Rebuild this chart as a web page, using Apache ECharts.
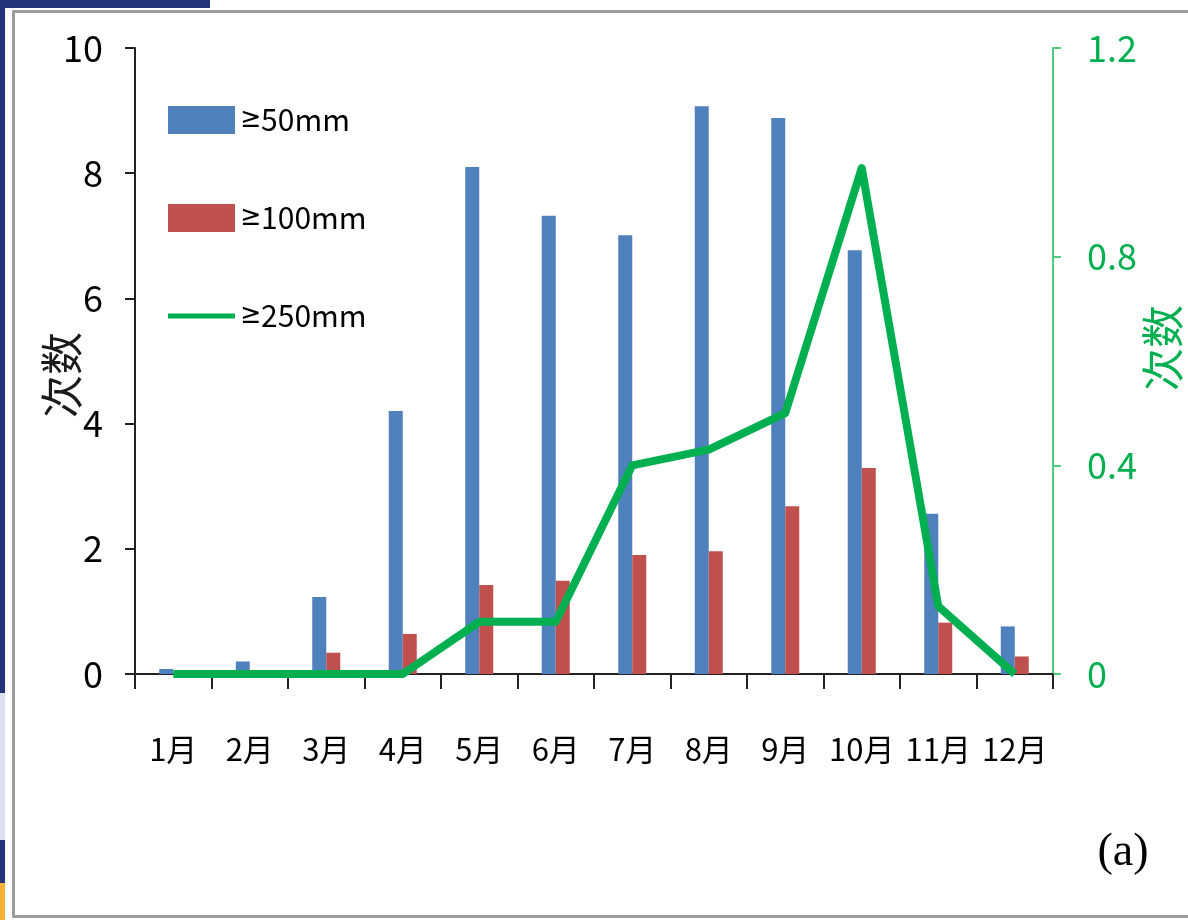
<!DOCTYPE html>
<html>
<head>
<meta charset="utf-8">
<script src="https://cdn.jsdelivr.net/npm/echarts@6/dist/echarts.min.js"></script>
<style>
  html, body { margin: 0; padding: 0; background: #fff; }
  #chart { width: 1188px; height: 920px; }
</style>
</head>
<body>
<div id="chart"></div>
<script>
// Monthly counts of heavy-rain events
const months = ['1月', '2月', '3月', '4月', '5月', '6月', '7月', '8月', '9月', '10月', '11月', '12月'];
const over50 = [0.08, 0.2, 1.23, 4.2, 8.1, 7.32, 7.01, 9.07, 8.88, 6.77, 2.56, 0.76];
const over100 = [0, 0, 0.34, 0.64, 1.42, 1.49, 1.9, 1.96, 2.68, 3.29, 0.82, 0.28];
const over250 = [0, 0, 0, 0, 0.1, 0.1, 0.4, 0.43, 0.5, 0.97, 0.13, 0];
const seriesNames = ['≥50mm', '≥100mm', '≥250mm'];
const leftTicks = { min: 0, max: 10, interval: 2 };
const rightTicks = { min: 0, max: 1.2, interval: 0.4 };

const NUM_FONT = "'Noto Sans CJK SC', sans-serif";
const SIGN_FONT = "'DejaVu Sans Condensed', 'DejaVu Sans', sans-serif";
const CJK_FONT = "'Noto Sans CJK SC', sans-serif";
const GREEN = '#00B050';
const GREEN_AXIS = '#4FCB80';

const chart = echarts.init(document.getElementById('chart'), null, { renderer: 'canvas' });

chart.setOption({
  backgroundColor: '#fff',
  animation: false,
  grid: { left: 135, right: 135, top: 48, bottom: 246, containLabel: false },
  legend: {
    orient: 'vertical',
    left: 168,
    top: 105,
    padding: 0,
    itemWidth: 67,
    itemHeight: 28,
    itemGap: 68,
    textStyle: {
      fontSize: 30, fontFamily: NUM_FONT, color: '#000',
      rich: {
        g: { fontSize: 28, fontFamily: SIGN_FONT, color: '#000' },
        t: { fontSize: 30, fontFamily: NUM_FONT, color: '#000' }
      }
    },
    formatter: function (name) {
      return '{g|' + name.charAt(0) + '}{t|' + name.slice(1) + '}';
    },
    data: [
      { name: seriesNames[0], icon: 'rect' },
      { name: seriesNames[1], icon: 'rect' },
      { name: seriesNames[2], icon: 'path://M0,0H67V5H0Z' }
    ]
  },
  xAxis: {
    type: 'category',
    data: months,
    boundaryGap: true,
    axisLine: { lineStyle: { color: '#222', width: 2 } },
    axisTick: { show: true, length: 15, lineStyle: { color: '#222', width: 2 } },
    axisLabel: { margin: 60, fontSize: 31, fontFamily: NUM_FONT, color: '#000', interval: 0 }
  },
  yAxis: [
    {
      type: 'value',
      min: leftTicks.min, max: leftTicks.max, interval: leftTicks.interval,
      splitLine: { show: false },
      axisLine: { show: true, lineStyle: { color: '#222', width: 2 } },
      axisTick: { show: true, length: 10, lineStyle: { color: '#222', width: 2 } },
      axisLabel: { margin: 32, fontSize: 36, fontFamily: NUM_FONT, color: '#000' }
    },
    {
      type: 'value',
      position: 'right',
      min: rightTicks.min, max: rightTicks.max, interval: rightTicks.interval,
      splitLine: { show: false },
      axisLine: { show: true, lineStyle: { color: GREEN_AXIS, width: 2 } },
      axisTick: { show: true, length: 8, lineStyle: { color: GREEN_AXIS, width: 2 } },
      axisLabel: { margin: 34, fontSize: 36, fontFamily: NUM_FONT, color: GREEN }
    }
  ],
  series: [
    {
      name: seriesNames[0],
      type: 'bar',
      data: over50,
      barWidth: 14,
      barGap: '0%',
      itemStyle: { color: '#4F81BD' }
    },
    {
      name: seriesNames[1],
      type: 'bar',
      data: over100,
      barWidth: 14,
      barGap: '0%',
      itemStyle: { color: '#C0504D' }
    },
    {
      name: seriesNames[2],
      type: 'line',
      yAxisIndex: 1,
      data: over250,
      symbol: 'none',
      z: 5,
      itemStyle: { color: GREEN },
      lineStyle: { color: GREEN, width: 8, join: 'round', cap: 'butt' }
    }
  ],
  graphic: [
    // surrounding frame
    { type: 'rect', z: -10, shape: { x: 0, y: 0, width: 210, height: 8 }, style: { fill: '#24327A' } },
    { type: 'rect', z: -10, shape: { x: 0, y: 0, width: 5, height: 693 }, style: { fill: '#24327A' } },
    { type: 'rect', z: -10, shape: { x: 0, y: 693, width: 5, height: 147 }, style: { fill: '#DCDFF0' } },
    { type: 'rect', z: -10, shape: { x: 0, y: 840, width: 5, height: 43 }, style: { fill: '#24327A' } },
    { type: 'rect', z: -10, shape: { x: 0, y: 883, width: 5, height: 37 }, style: { fill: '#F5B335' } },
    { type: 'rect', z: -9, shape: { x: 13.5, y: 11.5, width: 1190, height: 905 }, style: { fill: 'none', stroke: '#9C9C9C', lineWidth: 3 } },
    // axis titles
    {
      type: 'text', x: 62, y: 375, rotation: Math.PI / 2,
      style: { text: '次数', fontSize: 43, fontFamily: CJK_FONT, fill: '#1a1a1a', align: 'center', verticalAlign: 'middle' }
    },
    {
      type: 'text', x: 1163, y: 348, rotation: Math.PI / 2,
      style: { text: '次数', fontSize: 43, fontFamily: CJK_FONT, fill: GREEN, align: 'center', verticalAlign: 'middle' }
    },
    // panel label
    {
      type: 'text', x: 1123, y: 853,
      style: { text: '(a)', fontSize: 46, fontFamily: "'Liberation Serif', serif", fill: '#000', align: 'center', verticalAlign: 'middle' }
    }
  ]
});
</script>
</body>
</html>
